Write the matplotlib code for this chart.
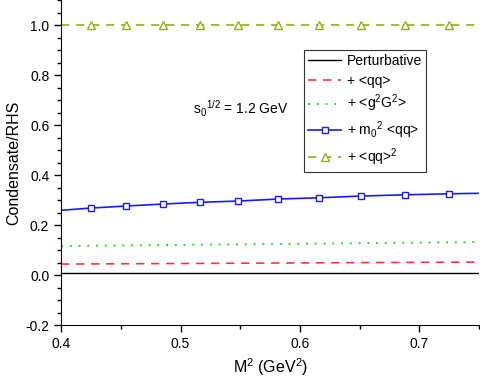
import matplotlib
matplotlib.use("Agg")
import matplotlib.pyplot as plt
from matplotlib.ticker import MultipleLocator

plt.rcParams['font.family'] = ['Liberation Sans', 'DejaVu Sans']
plt.rcParams['mathtext.fontset'] = 'custom'
plt.rcParams['mathtext.rm'] = 'Liberation Sans'

# Data
m2_line = [0.40, 0.75]
pert = [0.008, 0.008]
qq = [0.044, 0.052]
g2g2 = [0.116, 0.132]

m2_pts = [0.40, 0.425, 0.454, 0.485, 0.516, 0.5485, 0.5815, 0.6157, 0.6513, 0.6877, 0.7246, 0.75]
m0qq = [0.259, 0.268, 0.276, 0.284, 0.291, 0.296, 0.304, 0.309, 0.316, 0.321, 0.325, 0.327]
qq2 = [1.0] * len(m2_pts)

fig = plt.figure(figsize=(4.81, 3.82), dpi=100)
ax = fig.add_axes([0.127, 0.149, 0.869, 0.851])

ax.plot(m2_line, pert, color='black', lw=1.0, label='Perturbative')
ax.plot(m2_line, qq, color='#ff3344', lw=1.2, ls=(0, (5, 4)), label='+ <qq>')
ax.plot(m2_line, g2g2, color='#22dd22', lw=1.4, ls=(0, (1, 3.5)), label=r'+ <g$^2$G$^2$>')
ax.plot(m2_pts, m0qq, color='#1a1aff', lw=1.2, marker='s', ms=5, mfc='white', mec='#1a1aff',
        mew=1.0, markevery=list(range(1, len(m2_pts) - 1)), label=r'+ m$_0$$^2$ <qq>')
ax.plot(m2_pts, qq2, color='#8fb21c', lw=1.2, ls=(0, (5, 4)), marker='^', ms=6, mfc='white',
        mec='#8fb21c', mew=1.0, markevery=list(range(1, len(m2_pts) - 1)), label=r'+ <qq>$^2$')

ax.set_xlim(0.4, 0.75)
ax.set_ylim(-0.2, 1.1)
ax.xaxis.set_minor_locator(MultipleLocator(0.05))
ax.yaxis.set_minor_locator(MultipleLocator(0.05))
ax.set_yticks([-0.2, 0.0, 0.2, 0.4, 0.6, 0.8, 1.0])
ax.set_yticklabels(['-0.2', '0.0', '0.2', '0.4', '0.6', '0.8', '1.0'])
ax.set_xticks([0.4, 0.5, 0.6, 0.7])
ax.set_xticklabels(['0.4', '0.5', '0.6', '0.7'])

for s in ['top', 'right']:
    ax.spines[s].set_visible(False)
ax.tick_params(which='major', direction='out', length=5, width=1, labelsize=10)
ax.tick_params(which='minor', direction='out', length=3, width=1)

ax.set_xlabel(r'M$^2$ (GeV$^2$)', fontsize=11.5, labelpad=4)
ax.set_ylabel('Condensate/RHS', fontsize=11.5, labelpad=3)

ax.text(0.316, 0.648, r's$_0$$^{1/2}$ = 1.2 GeV', transform=ax.transAxes, fontsize=10)

leg = ax.legend(loc='upper left', bbox_to_anchor=(0.581, 0.846), fontsize=10,
                frameon=True, fancybox=False, edgecolor='black', handlelength=2.4,
                handletextpad=0.4, labelspacing=0.38, borderpad=0.3, borderaxespad=0)
leg.get_frame().set_linewidth(0.8)

fig.savefig('out.png', dpi=100)
